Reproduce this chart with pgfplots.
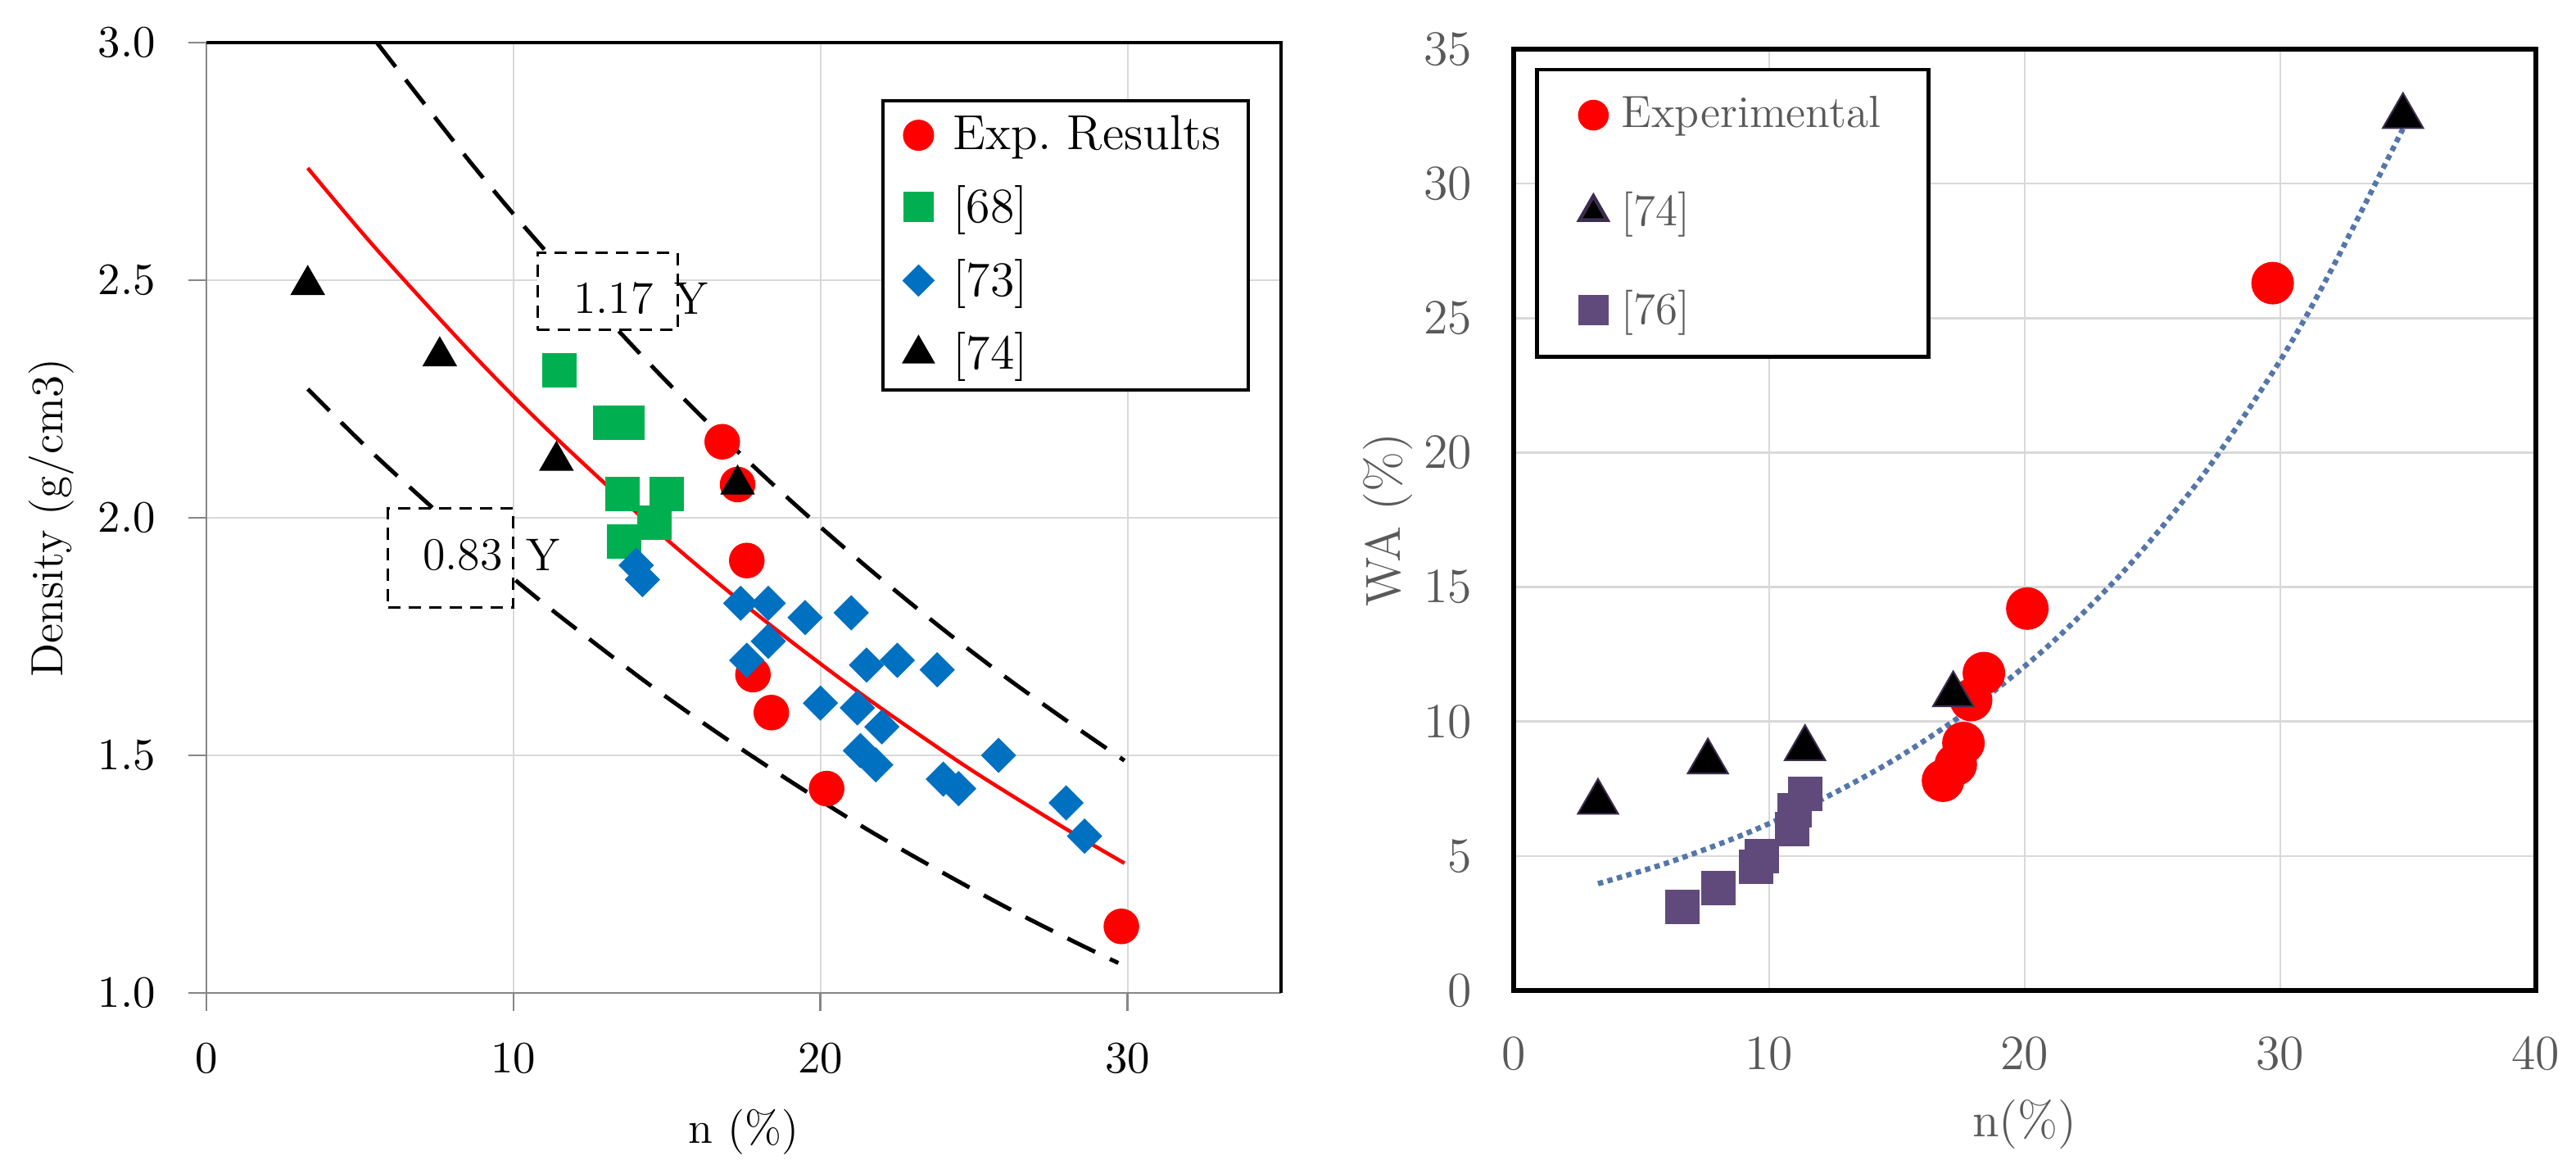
\documentclass[border=0pt]{standalone}
\usepackage{pgfplots}
\pgfplotsset{compat=1.18}
\usetikzlibrary{plotmarks}
\definecolor{cRed}{RGB}{255,0,0}
\definecolor{cGreen}{RGB}{0,176,80}
\definecolor{cBlue}{RGB}{0,112,192}
\definecolor{cPurple}{RGB}{96,74,123}
\definecolor{cTriEdge}{RGB}{60,45,80}
\definecolor{cTrend}{RGB}{84,118,170}
\definecolor{cGrid}{RGB}{217,217,217}
\definecolor{cAxisGray}{RGB}{134,134,134}
\definecolor{cText}{RGB}{89,89,89}
\begin{document}
\begin{tikzpicture}
\useasboundingbox (0,0) rectangle (629pt,286.4pt);
% ---------------- left panel ----------------
\begin{axis}[name=L, at={(50.4pt,44pt)}, anchor=south west, scale only axis,
  width=262.4pt, height=232pt,
  xmin=0, xmax=35, ymin=1, ymax=3,
  axis x line*=bottom, axis y line*=left,
  axis line style={cAxisGray, line width=0.5pt},
  xtick={0,10,20,30}, ytick={1,1.5,2,2.5,3},
  tick align=outside, major tick length=4.4pt,
  tick style={cAxisGray, line width=0.5pt},
  grid=major, major grid style={cGrid, line width=0.4pt},
  yticklabel style={/pgf/number format/fixed, /pgf/number format/fixed zerofill, /pgf/number format/precision=1, xshift=-4.5pt},
  xticklabel style={yshift=-4.5pt},
  tick label style={font=\fontsize{11.2}{13}\selectfont},
  xlabel={n (\%)}, ylabel={Density (g/cm3)},
  label style={font=\fontsize{11}{13}\selectfont},
  xlabel style={at={(axis description cs:0.5,-0.1466)}, anchor=center},
  ylabel style={at={(axis description cs:-0.144,0.5)}, anchor=center},
  legend style={at={(0.971,0.9405)}, anchor=north east, draw=black, line width=0.8pt,
    fill=white, font=\fontsize{12}{14}\selectfont, row sep=4.4pt, column sep=3.5pt,
    nodes={inner sep=1.5pt}, inner xsep=5.2pt, inner ysep=2pt},
  legend cell align=left,
]
\addplot[only marks, mark=*, mark size=4.15pt, color=cRed,
  legend image post style={mark size=3.4pt}] coordinates {
(16.8,2.16) (17.3,2.07) (17.6,1.91) (17.8,1.67) (18.4,1.59) (20.2,1.43) (29.8,1.14)};
\addlegendentry{Exp.\ Results}
\addplot[only marks, mark=square*, mark size=4pt, color=cGreen,
  legend image post style={mark size=3.3pt}] coordinates {
(11.5,2.31) (13.15,2.20) (13.7,2.20) (13.55,2.05) (15.0,2.05) (14.6,1.99) (13.6,1.95)};
\addlegendentry{[68]}
\addplot[only marks, mark=square*, mark size=2.85pt, color=cBlue, mark options={rotate=45},
  legend image post style={mark size=2.4pt}] coordinates {
(14.0,1.90) (14.2,1.87) (17.4,1.82) (18.3,1.82) (19.5,1.79) (21.0,1.80) (18.3,1.74)
(17.6,1.70) (21.5,1.69) (22.5,1.70) (23.8,1.68) (20.0,1.61) (21.2,1.60) (22.0,1.56)
(21.3,1.51) (21.8,1.48) (25.8,1.50) (24.0,1.45) (24.5,1.43) (28.0,1.40) (28.6,1.33)};
\addlegendentry{[73]}
\addplot[only marks, mark=triangle*, mark size=4.5pt, color=black,
  legend image post style={mark size=3.9pt}] coordinates {
(3.3,2.49) (7.6,2.34) (11.4,2.12) (17.3,2.07)};
\addlegendentry{[74]}
% fitted curve and +-17% bounds
\addplot[forget plot, cRed, line width=0.9pt, smooth] coordinates {
(3.3,2.736) (5.5,2.568) (8.6,2.349) (11.0,2.192) (14.3,1.994) (16.7,1.861)
(19.1,1.737) (21.5,1.621) (23.9,1.513) (25.4,1.449) (28.1,1.341) (29.9,1.273)};
\addplot[forget plot, black, line width=1pt, dash pattern=on 7.5pt off 4pt, smooth] coordinates {
(5.55,3.0) (8.6,2.748) (11.0,2.565) (14.3,2.333) (16.7,2.177) (19.1,2.032)
(21.5,1.897) (23.9,1.770) (26.0,1.666) (28.1,1.569) (29.9,1.489)};
\addplot[forget plot, black, line width=1pt, dash pattern=on 7.5pt off 4pt, smooth] coordinates {
(3.3,2.271) (5.5,2.131) (8.6,1.950) (11.0,1.819) (14.3,1.655) (16.7,1.545)
(19.1,1.442) (21.5,1.345) (23.9,1.256) (26.0,1.182) (28.1,1.113) (29.7,1.063)};
% labels
\node[draw=black, dash pattern=on 3pt off 2pt, line width=0.6pt, fill=white,
  minimum width=34.2pt, minimum height=18.8pt, inner sep=0pt] at (axis cs:13.06,2.476) {};
\node[font=\fontsize{11.2}{13}\selectfont] at (axis cs:13.26,2.462) {1.17};
\node[font=\fontsize{11.2}{13}\selectfont] at (axis cs:15.79,2.462) {Y};
\node[draw=black, dash pattern=on 3pt off 2pt, line width=0.6pt, fill=white,
  minimum width=30.6pt, minimum height=24.2pt, inner sep=0pt] at (axis cs:7.96,1.915) {};
\node[font=\fontsize{11.2}{13}\selectfont] at (axis cs:8.35,1.922) {0.83};
\node[font=\fontsize{11.2}{13}\selectfont] at (axis cs:10.96,1.922) {Y};
\end{axis}
\draw[black, line width=0.7pt] (L.north west) -- (L.north east) -- (L.south east);
% ---------------- right panel ----------------
\begin{axis}[name=R, at={(369.6pt,44.6pt)}, anchor=south west, scale only axis,
  width=249.6pt, height=229.8pt,
  xmin=0, xmax=40, ymin=0, ymax=35,
  xtick={0,10,20,30,40}, ytick={0,5,10,15,20,25,30,35},
  axis line style={black, line width=1.1pt}, major tick length=0pt,
  grid=major, major grid style={cGrid, line width=0.5pt},
  tick label style={font=\fontsize{12}{14}\selectfont, text=cText},
  xticklabel style={yshift=-8pt}, yticklabel style={xshift=-6.6pt},
  xlabel={n(\%)}, ylabel={WA (\%)},
  label style={font=\fontsize{12}{14}\selectfont, text=cText},
  xlabel style={at={(axis description cs:0.5,-0.1427)}, anchor=center},
  ylabel style={at={(axis description cs:-0.1226,0.5)}, anchor=center},
  legend style={at={(0.021,0.98)}, anchor=north west, draw=black, line width=0.9pt,
    fill=white, font=\fontsize{11}{13}\selectfont, text=cText, row sep=11.2pt, column sep=2pt,
    nodes={inner sep=1.5pt}, inner xsep=10.4pt, inner ysep=5pt},
  legend cell align=left,
]
\addplot[only marks, mark=*, mark size=5pt, color=cRed,
  legend image post style={mark size=3.3pt}] coordinates {
(16.8,7.8) (17.3,8.4) (17.6,9.2) (17.9,10.8) (18.4,11.8) (20.1,14.2) (29.7,26.3)};
\addlegendentry{\makebox[63pt][l]{Experimental}}
\addplot[only marks, mark=triangle*, mark size=5.7pt, fill=black, draw=cTriEdge,
  legend image post style={mark size=3.9pt}] coordinates {
(3.3,7.0) (7.6,8.5) (11.4,9.0) (17.2,11.0) (34.8,32.5)};
\addlegendentry{[74]}
\addplot[only marks, mark=square*, mark size=4pt, color=cPurple,
  legend image post style={mark size=3.3pt}] coordinates {
(6.6,3.1) (8.0,3.8) (9.5,4.6) (9.7,5.0) (10.9,6.0) (11.0,6.7) (11.4,7.3)};
\addlegendentry{[76]}
\addplot[forget plot, cTrend, line width=1.3pt, dash pattern=on 1.3pt off 1.1pt, smooth] coordinates {
(3.3,3.97) (6,4.74) (9,5.80) (12,7.08) (15,8.64) (18,10.55) (21,12.88)
(24,15.72) (27,19.19) (30,23.43) (32,26.8) (34.8,32.04)};
\end{axis}
\end{tikzpicture}
\end{document}
